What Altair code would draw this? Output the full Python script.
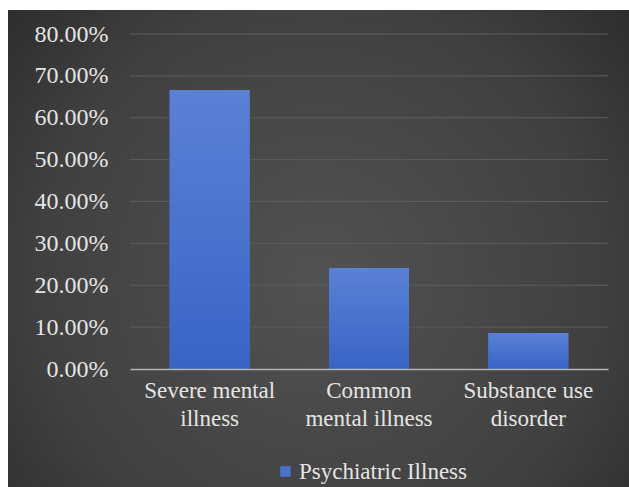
import altair as alt
import pandas as pd

# Share of patients by psychiatric illness category
categories = ["Severe mental illness", "Common mental illness", "Substance use disorder"]
shares = [0.666, 0.241, 0.086]
series_name = "Psychiatric Illness"
y_ticks = [0.0, 0.1, 0.2, 0.3, 0.4, 0.5, 0.6, 0.7, 0.8]

df = pd.DataFrame({"category": categories, "share": shares, "series": series_name})
grid_df = pd.DataFrame({"tick": y_ticks[1:]})

FONT = "'Times New Roman', 'Liberation Serif', 'DejaVu Serif', serif"
TEXT = "#e4e4e4"

# Dark radial backdrop behind the whole chart (offsets relative to the plot origin)
backdrop = alt.Chart(pd.DataFrame({"k": [0]})).mark_rect(
    fill=alt.RadialGradient(
        gradient="radial",
        stops=[alt.GradientStop(offset=0, color="#525252"),
               alt.GradientStop(offset=0.6, color="#404040"),
               alt.GradientStop(offset=1, color="#262626")],
        x1=0.5, y1=0.55, r1=0, x2=0.5, y2=0.55, r2=0.75,
    ),
).encode(x=alt.value(-122), x2=alt.value(499), y=alt.value(-24), y2=alt.value(453))

# Horizontal gridlines, drawn above the backdrop and below the bars
grid = alt.Chart(grid_df).mark_rule(color="#5c5c5c", strokeWidth=1).encode(
    y=alt.Y("tick:Q"), x=alt.value(0), x2=alt.value(478),
)

x_enc = alt.X(
    "category:N", sort=categories, title=None,
    scale=alt.Scale(paddingInner=0.5, paddingOuter=0.25),
    axis=alt.Axis(
        labelExpr="datum.value == 'Severe mental illness' ? ['Severe mental', 'illness'] : "
                  "datum.value == 'Common mental illness' ? ['Common', 'mental illness'] : "
                  "['Substance use', 'disorder']",
        labelAngle=0, labelFont=FONT, labelFontSize=23, labelColor=TEXT,
        labelLineHeight=28, labelPadding=10, labelBaseline="top", labelLimit=0,
        ticks=False, domain=True, domainColor="#b5b5b5", domainWidth=1.5, grid=False,
        zindex=1,
    ),
)
y_enc = alt.Y(
    "share:Q", title=None,
    scale=alt.Scale(domain=[0, 0.8], nice=False),
    axis=alt.Axis(
        values=y_ticks, format=".2%", labelFont=FONT, labelFontSize=24, labelColor=TEXT,
        labelPadding=22, ticks=False, domain=False, grid=False, zindex=1,
    ),
)

bars = alt.Chart(df).mark_bar(size=80).encode(
    x=x_enc, y=y_enc,
    color=alt.Color(
        "series:N", scale=alt.Scale(range=["#4a72cc"]), title=None,
        legend=alt.Legend(
            orient="none", legendX=144, legendY=426, symbolType="square", symbolSize=110,
            labelFont=FONT, labelFontSize=23, labelColor=TEXT, symbolStrokeWidth=0,
            labelOffset=2, labelLimit=0,
        ),
    ),
)

# Soft vertical shading over each bar
shade = alt.Chart(df).mark_bar(
    size=80,
    fill=alt.LinearGradient(
        gradient="linear",
        stops=[alt.GradientStop(offset=0, color="#5b81d6"),
               alt.GradientStop(offset=1, color="#3964c6")],
        x1=0, y1=0, x2=0, y2=1,
    ),
).encode(x=alt.X("category:N", sort=categories), y="share:Q")

chart = alt.layer(backdrop, grid, bars, shade).properties(
    width=478, height=335,
    autosize=alt.AutoSizeParams(type="none"),
    padding={"left": 130, "top": 34, "right": 21, "bottom": 118},
    background="white",
).configure_view(stroke=None)

chart.save("out.html", embed_options={"renderer": "svg", "actions": False})
